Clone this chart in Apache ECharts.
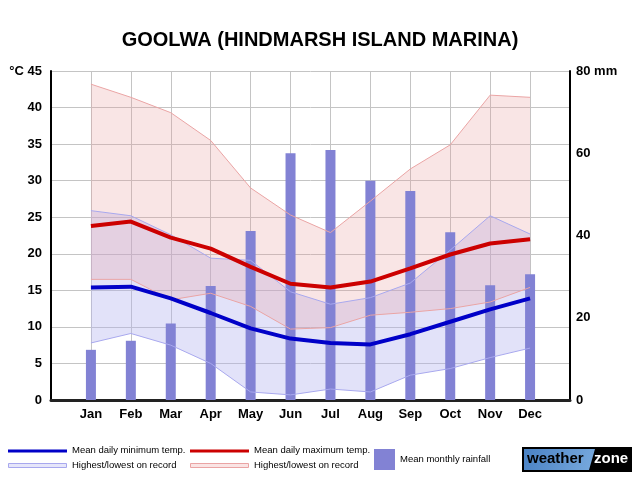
<!DOCTYPE html>
<html><head><meta charset="utf-8">
<script src="https://cdn.jsdelivr.net/npm/echarts/dist/echarts.min.js"></script>
<style>html,body{margin:0;padding:0;background:#fff}#c{width:640px;height:480px}</style>
</head><body><div id="c"></div><script>
const months = ['Jan','Feb','Mar','Apr','May','Jun','Jul','Aug','Sep','Oct','Nov','Dec'];
const meanMin = [15.4,15.5,13.9,11.9,9.8,8.4,7.8,7.6,9.0,10.7,12.4,13.9];
const meanMax = [23.8,24.4,22.2,20.7,18.2,15.9,15.4,16.2,18.0,19.9,21.4,22.0];
const minRecHigh = [25.9,25.2,22.6,19.4,19.1,14.8,13.1,14.0,16.0,20.5,25.2,22.7];
const minRecLow = [7.8,9.1,7.5,5.0,1.1,0.7,1.5,1.1,3.4,4.3,5.8,7.1];
const maxRecHigh = [43.2,41.4,39.3,35.5,29.0,25.3,22.9,27.2,31.6,34.9,41.7,41.4];
const maxRecLow = [16.5,16.5,13.7,14.6,12.8,9.7,9.9,11.6,12.0,12.5,13.4,15.4];
const rainfall = [12.2,14.4,18.6,27.7,41.1,60.0,60.8,53.3,50.8,40.8,27.9,30.6];

// padded category list: empty slot before Jan and after Dec
const cats = [''].concat(months, ['']);
const pad = arr => [null].concat(arr, [null]);
const diff = (hi, lo) => pad(hi.map((v, i) => +(v - lo[i]).toFixed(2)));

const FONT = 'Liberation Sans, Arial, sans-serif';
const BLUE_EDGE = '#a8a8ee', RED_EDGE = '#eaa4a4';
const chart = echarts.init(document.getElementById('c'), null, {renderer: 'canvas'});
const lab = (x, y, t) => ({type: 'text', left: x, top: y, style: {text: t, font: '9.5px ' + FONT, fill: '#000'}});
const edge = (arr, color) => ({type: 'line', data: pad(arr), symbol: 'none', z: 5,
  lineStyle: {color: color, width: 1}});

chart.setOption({
  animation: false,
  title: {text: 'GOOLWA (HINDMARSH ISLAND MARINA)', left: 'center', top: 25,
    textStyle: {fontFamily: FONT, fontWeight: 'bold', fontSize: 20, color: '#000'}},
  grid: {left: 51, right: 70, top: 71, bottom: 80},
  xAxis: {type: 'category', data: cats, boundaryGap: false,
    axisLine: {lineStyle: {color: '#222', width: 3}},
    axisTick: {show: false},
    splitLine: {show: true, interval: 0, lineStyle: {color: '#c4c4c4', width: 1}},
    axisLabel: {interval: 0, margin: 8, fontFamily: FONT, fontWeight: 'bold', fontSize: 13, color: '#000'}},
  yAxis: [
    {type: 'value', min: 0, max: 45, interval: 5,
      axisLine: {show: true, lineStyle: {color: '#000', width: 2}},
      axisTick: {show: false},
      splitLine: {lineStyle: {color: '#c4c4c4', width: 1}},
      axisLabel: {margin: 9, fontFamily: FONT, fontWeight: 'bold', fontSize: 13, color: '#000',
        formatter: v => v === 45 ? '°C 45' : String(v)}},
    {type: 'value', min: 0, max: 80, interval: 20, position: 'right',
      axisLine: {show: true, lineStyle: {color: '#000', width: 2}},
      axisTick: {show: false}, splitLine: {show: false},
      axisLabel: {margin: 6, fontFamily: FONT, fontWeight: 'bold', fontSize: 13, color: '#000',
        formatter: v => v === 80 ? '80 mm' : String(v)}}
  ],
  series: [
    {type: 'line', stack: 'minrec', data: pad(minRecLow), symbol: 'none', z: 2,
      lineStyle: {width: 0}},
    {type: 'line', stack: 'minrec', data: diff(minRecHigh, minRecLow), symbol: 'none', z: 2,
      lineStyle: {width: 0}, areaStyle: {color: 'rgba(180,180,240,0.38)', opacity: 1}},
    {type: 'line', stack: 'maxrec', data: pad(maxRecLow), symbol: 'none', z: 3,
      lineStyle: {width: 0}},
    {type: 'line', stack: 'maxrec', data: diff(maxRecHigh, maxRecLow), symbol: 'none', z: 3,
      lineStyle: {width: 0}, areaStyle: {color: 'rgba(230,150,150,0.25)', opacity: 1}},
    {type: 'bar', yAxisIndex: 1, data: pad(rainfall), barWidth: 10, z: 4,
      itemStyle: {color: '#8282d4'}},
    edge(minRecLow, BLUE_EDGE), edge(minRecHigh, BLUE_EDGE),
    edge(maxRecLow, RED_EDGE), edge(maxRecHigh, RED_EDGE),
    {type: 'line', data: pad(meanMin), symbol: 'none', z: 6,
      lineStyle: {color: '#0000c8', width: 4}},
    {type: 'line', data: pad(meanMax), symbol: 'none', z: 6,
      lineStyle: {color: '#cc0000', width: 4}}
  ],
  graphic: [
    {type: 'rect', shape: {x: 8, y: 449.5, width: 59, height: 3}, style: {fill: '#0000c8'}},
    lab(72, 445, 'Mean daily minimum temp.'),
    {type: 'rect', shape: {x: 8.5, y: 463.5, width: 58, height: 4}, style: {fill: '#e6e6fa', stroke: BLUE_EDGE, lineWidth: 1}},
    lab(72, 460, 'Highest/lowest on record'),
    {type: 'rect', shape: {x: 190, y: 449.5, width: 59, height: 3}, style: {fill: '#cc0000'}},
    lab(254, 445, 'Mean daily maximum temp.'),
    {type: 'rect', shape: {x: 190.5, y: 463.5, width: 58, height: 4}, style: {fill: '#fae4e4', stroke: RED_EDGE, lineWidth: 1}},
    lab(254, 460, 'Highest/lowest on record'),
    {type: 'rect', shape: {x: 374, y: 449, width: 21, height: 21}, style: {fill: '#8282d4'}},
    lab(400, 454, 'Mean monthly rainfall'),
    {type: 'rect', shape: {x: 522, y: 447, width: 110, height: 25}, style: {fill: '#000'}},
    {type: 'polygon', shape: {points: [[524, 449], [595, 449], [589, 470], [524, 470]]},
      style: {fill: new echarts.graphic.LinearGradient(0, 0, 1, 1, [{offset: 0, color: '#4a82c4'}, {offset: 1, color: '#78aade'}])}},
    {type: 'text', left: 527, top: 451, style: {text: 'weather', font: 'bold 15px ' + FONT, fill: '#000'}},
    {type: 'text', left: 594, top: 451, style: {text: 'zone', font: 'bold 15px ' + FONT, fill: '#fff'}}
  ]
});
</script></body></html>
